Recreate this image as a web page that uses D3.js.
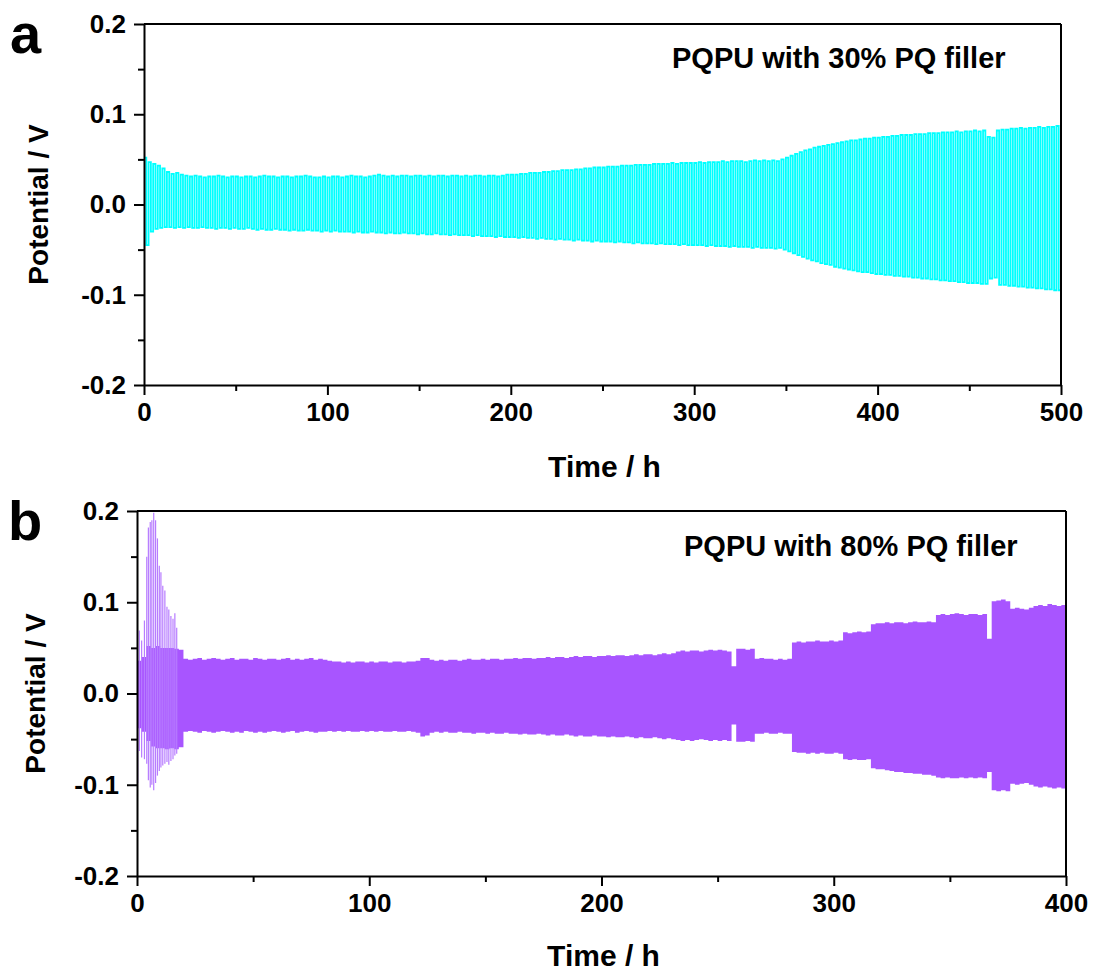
<!DOCTYPE html>
<html lang="en">
<head>
<meta charset="UTF-8">
<title>PQPU potential vs time</title>
<script src="https://d3js.org/d3.v7.min.js"></script>
<style>
    body { margin: 0; background: #fff; font-family: "Liberation Sans", Arial, sans-serif; }
    .axis text { font-family: "Liberation Sans", Arial, sans-serif; font-weight: bold; fill: #000; }
    .axis path, .axis line { stroke: #000; stroke-width: 2; }
</style>
</head>
<body>
<svg id="chart" width="1093" height="972"></svg>
<script>
// ---- panel a : PQPU with 30% PQ filler, one cycle every 2.5 h (t = i * 2.5) ----
const stepA = 2.5;
const upperA = [
    0.052,0.047,0.045,0.043,0.040,0.036,0.034,0.035,0.033,0.032, 0.031,0.032,0.031,0.030,0.031,0.031,0.032,0.031,0.030,0.031,
    0.031,0.030,0.031,0.031,0.030,0.031,0.032,0.031,0.031,0.030, 0.031,0.031,0.030,0.031,0.031,0.032,0.031,0.030,0.030,0.031,
    0.030,0.031,0.031,0.030,0.031,0.032,0.031,0.031,0.030,0.031, 0.032,0.033,0.032,0.031,0.032,0.031,0.032,0.032,0.031,0.032,
    0.032,0.031,0.032,0.031,0.032,0.032,0.031,0.032,0.032,0.031, 0.032,0.031,0.032,0.032,0.031,0.032,0.032,0.031,0.032,0.033,
    0.033,0.033,0.034,0.034,0.035,0.035,0.035,0.036,0.036,0.037, 0.037,0.038,0.038,0.038,0.039,0.039,0.040,0.040,0.041,0.041,
    0.041,0.042,0.042,0.042,0.043,0.043,0.043,0.044,0.044,0.044, 0.044,0.045,0.045,0.045,0.045,0.046,0.045,0.046,0.046,0.046,
    0.046,0.047,0.046,0.047,0.047,0.047,0.048,0.047,0.048,0.048, 0.048,0.047,0.048,0.049,0.048,0.049,0.048,0.049,0.048,0.050,
    0.052,0.054,0.056,0.058,0.060,0.061,0.063,0.064,0.065,0.066, 0.067,0.068,0.069,0.070,0.071,0.071,0.072,0.073,0.073,0.074,
    0.074,0.075,0.075,0.076,0.076,0.077,0.077,0.077,0.078,0.078, 0.078,0.079,0.079,0.079,0.080,0.080,0.080,0.081,0.080,0.081,
    0.081,0.082,0.081,0.082,0.075,0.074,0.082,0.083,0.083,0.084, 0.084,0.085,0.084,0.085,0.085,0.086,0.085,0.086,0.086,0.087
];
const lowerA = [
    -0.045,-0.030,-0.027,-0.026,-0.025,-0.025,-0.026,-0.025,-0.026,-0.025, -0.026,-0.026,-0.025,-0.026,-0.026,-0.027,-0.026,-0.026,-0.027,-0.026,
    -0.027,-0.027,-0.026,-0.027,-0.028,-0.027,-0.028,-0.028,-0.027,-0.028, -0.028,-0.029,-0.028,-0.029,-0.029,-0.028,-0.029,-0.029,-0.030,-0.029,
    -0.030,-0.029,-0.030,-0.030,-0.030,-0.031,-0.030,-0.031,-0.031,-0.030, -0.031,-0.031,-0.032,-0.031,-0.032,-0.032,-0.031,-0.032,-0.032,-0.033,
    -0.032,-0.033,-0.033,-0.032,-0.033,-0.033,-0.034,-0.033,-0.034,-0.034, -0.034,-0.035,-0.034,-0.035,-0.035,-0.035,-0.036,-0.035,-0.036,-0.036,
    -0.036,-0.037,-0.036,-0.037,-0.037,-0.038,-0.037,-0.038,-0.038,-0.039, -0.038,-0.039,-0.039,-0.040,-0.039,-0.040,-0.040,-0.041,-0.040,-0.041,
    -0.041,-0.041,-0.042,-0.041,-0.042,-0.042,-0.043,-0.042,-0.043,-0.043, -0.043,-0.044,-0.043,-0.044,-0.044,-0.044,-0.045,-0.044,-0.045,-0.045,
    -0.045,-0.045,-0.046,-0.045,-0.046,-0.046,-0.046,-0.047,-0.046,-0.047, -0.047,-0.047,-0.048,-0.047,-0.048,-0.048,-0.048,-0.049,-0.048,-0.050,
    -0.052,-0.054,-0.056,-0.058,-0.060,-0.062,-0.063,-0.065,-0.066,-0.067, -0.069,-0.070,-0.071,-0.072,-0.073,-0.074,-0.075,-0.075,-0.076,-0.077,
    -0.077,-0.078,-0.078,-0.079,-0.079,-0.080,-0.080,-0.081,-0.081,-0.082, -0.082,-0.083,-0.083,-0.084,-0.084,-0.085,-0.085,-0.086,-0.086,-0.087,
    -0.087,-0.087,-0.088,-0.088,-0.082,-0.081,-0.089,-0.089,-0.090,-0.090, -0.091,-0.091,-0.092,-0.092,-0.093,-0.093,-0.094,-0.094,-0.095,-0.095
];

// ---- panel b : PQPU with 80% PQ filler, envelope every 2 h (t = i * 2) ----
const stepB = 2;
const upperB = [
    0.036,0.040,0.052,0.050,0.052,0.050,0.050,0.050,0.049,0.048, 0.038,0.037,0.038,0.039,0.037,0.038,0.039,0.038,0.037,0.038,
    0.039,0.037,0.038,0.038,0.037,0.039,0.038,0.037,0.038,0.038, 0.037,0.038,0.039,0.037,0.038,0.037,0.038,0.039,0.037,0.038,
    0.037,0.036,0.035,0.035,0.034,0.035,0.034,0.035,0.035,0.034, 0.035,0.034,0.035,0.035,0.034,0.035,0.035,0.034,0.035,0.035,
    0.036,0.039,0.039,0.037,0.036,0.037,0.036,0.037,0.037,0.036, 0.037,0.038,0.037,0.037,0.038,0.037,0.038,0.038,0.037,0.038,
    0.038,0.039,0.038,0.039,0.039,0.038,0.039,0.039,0.040,0.039, 0.040,0.040,0.039,0.040,0.041,0.040,0.041,0.041,0.040,0.041,
    0.041,0.042,0.041,0.042,0.042,0.041,0.042,0.043,0.042,0.043, 0.043,0.042,0.043,0.044,0.043,0.044,0.046,0.047,0.046,0.047,
    0.047,0.046,0.047,0.048,0.047,0.048,0.047,0.046,0.030,0.049, 0.049,0.048,0.049,0.038,0.039,0.038,0.038,0.037,0.038,0.037,
    0.038,0.056,0.057,0.056,0.057,0.057,0.058,0.057,0.057,0.058, 0.057,0.058,0.067,0.066,0.067,0.068,0.067,0.068,0.076,0.077,
    0.077,0.078,0.077,0.078,0.078,0.077,0.078,0.079,0.078,0.078, 0.079,0.078,0.086,0.087,0.086,0.087,0.088,0.087,0.086,0.087,
    0.087,0.086,0.087,0.060,0.101,0.102,0.103,0.101,0.093,0.094, 0.093,0.092,0.094,0.096,0.097,0.096,0.098,0.097,0.096,0.097
];
const lowerB = [
    -0.038,-0.042,-0.052,-0.058,-0.060,-0.060,-0.061,-0.060,-0.061,-0.059, -0.042,-0.041,-0.042,-0.043,-0.041,-0.042,-0.043,-0.042,-0.041,-0.042,
    -0.043,-0.042,-0.043,-0.041,-0.042,-0.043,-0.042,-0.043,-0.042,-0.041, -0.042,-0.043,-0.042,-0.041,-0.043,-0.042,-0.041,-0.042,-0.043,-0.042,
    -0.042,-0.041,-0.042,-0.041,-0.042,-0.041,-0.042,-0.042,-0.041,-0.042, -0.041,-0.042,-0.041,-0.042,-0.042,-0.041,-0.042,-0.042,-0.041,-0.042,
    -0.043,-0.047,-0.046,-0.043,-0.042,-0.043,-0.042,-0.043,-0.043,-0.042, -0.043,-0.043,-0.044,-0.043,-0.043,-0.044,-0.043,-0.044,-0.044,-0.043,
    -0.044,-0.044,-0.045,-0.044,-0.045,-0.045,-0.044,-0.045,-0.046,-0.045, -0.046,-0.046,-0.045,-0.046,-0.047,-0.046,-0.047,-0.047,-0.046,-0.047,
    -0.047,-0.048,-0.047,-0.048,-0.048,-0.047,-0.048,-0.049,-0.048,-0.049, -0.049,-0.048,-0.049,-0.050,-0.049,-0.050,-0.051,-0.052,-0.051,-0.052,
    -0.051,-0.050,-0.051,-0.052,-0.051,-0.052,-0.051,-0.052,-0.034,-0.053, -0.053,-0.052,-0.053,-0.044,-0.044,-0.043,-0.044,-0.044,-0.043,-0.044,
    -0.044,-0.064,-0.065,-0.065,-0.066,-0.065,-0.066,-0.065,-0.066,-0.066, -0.065,-0.066,-0.072,-0.073,-0.072,-0.073,-0.073,-0.072,-0.082,-0.083,
    -0.083,-0.084,-0.085,-0.086,-0.086,-0.087,-0.087,-0.088,-0.088,-0.089, -0.089,-0.090,-0.092,-0.093,-0.092,-0.093,-0.093,-0.092,-0.093,-0.092,
    -0.093,-0.092,-0.093,-0.086,-0.106,-0.107,-0.106,-0.107,-0.099,-0.100, -0.099,-0.098,-0.100,-0.102,-0.103,-0.102,-0.103,-0.104,-0.103,-0.104
];
// early overshoot cycles in panel b
const spikeT  = [0.3, 1.0, 2.0, 3.2, 4.2, 4.9, 5.7, 6.4, 7.2, 8.0, 8.8, 9.6, 10.3, 11.1, 12.0, 12.9, 13.7, 14.6, 15.5, 16.3, 17.1];
const spikeHi = [0.036, 0.069, 0.058, 0.080, 0.150, 0.182, 0.188, 0.190, 0.198, 0.190, 0.170, 0.140, 0.133, 0.118, 0.113, 0.095, 0.092, 0.085, 0.082, 0.088, 0.072];
const spikeLo = [-0.098, -0.063, -0.070, -0.072, -0.077, -0.095, -0.103, -0.100, -0.106, -0.098, -0.090, -0.085, -0.081, -0.079, -0.077, -0.075, -0.078, -0.074, -0.072, -0.068, -0.066];

const yTicks = [-0.2, -0.1, 0.0, 0.1, 0.2];
const yMinor = [-0.15, -0.05, 0.05, 0.15];

const svg = d3.select("#chart");

function drawPanel(p) {
    const x = d3.scaleLinear().domain([0, p.xMax]).range([p.left, p.right]);
    const y = d3.scaleLinear().domain([-0.2, 0.2]).range([p.bottom, p.top]);
    const g = svg.append("g");

    g.append("clipPath").attr("id", "clip" + p.id)
        .append("rect")
        .attr("x", p.left).attr("y", p.top - 1)
        .attr("width", p.right - p.left).attr("height", p.bottom - p.top + 2);

    const plot = g.append("g").attr("clip-path", `url(#clip${p.id})`);
    p.drawData(plot, x, y);

    // frame (top + right)
    g.append("line").attr("x1", p.left).attr("x2", p.right).attr("y1", p.top).attr("y2", p.top)
        .attr("stroke", "#000").attr("stroke-width", 2);
    g.append("line").attr("x1", p.right).attr("x2", p.right).attr("y1", p.top).attr("y2", p.bottom)
        .attr("stroke", "#000").attr("stroke-width", 2);

    // y axis
    g.append("g").attr("class", "axis")
        .attr("transform", `translate(${p.left},0)`)
        .call(d3.axisLeft(y).tickValues(yMinor).tickSize(6).tickFormat(""))
        .call(a => a.select(".domain").remove());
    g.append("g").attr("class", "axis")
        .attr("transform", `translate(${p.left},0)`)
        .call(d3.axisLeft(y).tickValues(yTicks).tickSize(10).tickSizeOuter(0).tickPadding(8)
            .tickFormat(d => d.toFixed(1)))
        .selectAll("text").style("font-size", p.tickFont + "px");

    // x axis
    const xMajor = d3.range(0, p.xMax + 1, 100);
    const xMinor = d3.range(50, p.xMax, 100);
    g.append("g").attr("class", "axis")
        .attr("transform", `translate(0,${p.bottom})`)
        .call(d3.axisBottom(x).tickValues(xMinor).tickSize(6).tickFormat(""))
        .call(a => a.select(".domain").remove());
    g.append("g").attr("class", "axis")
        .attr("transform", `translate(0,${p.bottom})`)
        .call(d3.axisBottom(x).tickValues(xMajor).tickSize(10).tickSizeOuter(0).tickPadding(8)
            .tickFormat(d3.format("d")))
        .selectAll("text").style("font-size", p.tickFont + "px");

    // axis titles
    g.append("text")
        .attr("transform", `translate(${p.yTitleX},${(p.top + p.bottom) / 2}) rotate(-90)`)
        .attr("text-anchor", "middle")
        .style("font-size", "28px").style("font-weight", "bold")
        .text("Potential / V");
    g.append("text")
        .attr("x", (p.left + p.right) / 2 + 2).attr("y", p.xTitleY)
        .attr("text-anchor", "middle")
        .style("font-size", "30px").style("font-weight", "bold")
        .text("Time / h");

    // note and panel letter
    g.append("text")
        .attr("x", p.noteX).attr("y", p.noteY)
        .style("font-size", "29px").style("font-weight", "bold")
        .text(p.note);
    g.append("text")
        .attr("x", p.letterX).attr("y", p.letterY)
        .style("font-size", "56px").style("font-weight", "bold")
        .text(p.letter);
}

drawPanel({
    id: "a", xMax: 500, left: 144, right: 1061, top: 24, bottom: 385,
    tickFont: 26, yTitleX: 48, xTitleY: 477,
    note: "PQPU with 30% PQ filler", noteX: 672, noteY: 68,
    letter: "a", letterX: 10, letterY: 53,
    drawData: (plot, x, y) => {
        // square wave: charge half-cycle at the upper value, discharge half at the lower value
        const pts = [];
        upperA.forEach((v, i) => {
            pts.push([i * stepA, v]);
            pts.push([i * stepA + stepA / 2, lowerA[i]]);
        });
        pts.push([upperA.length * stepA, upperA[upperA.length - 1]]);
        plot.append("path")
            .attr("d", d3.line().x(d => x(d[0])).y(d => y(d[1])).curve(d3.curveStepAfter)(pts))
            .attr("fill", "none")
            .attr("stroke", "#00ffff")
            .attr("stroke-width", 1.8);
    }
});

drawPanel({
    id: "b", xMax: 400, left: 137, right: 1066, top: 511, bottom: 876,
    tickFont: 26, yTitleX: 45, xTitleY: 966,
    note: "PQPU with 80% PQ filler", noteX: 684, noteY: 556,
    letter: "b", letterX: 8, letterY: 540,
    drawData: (plot, x, y) => {
        const idx = d3.range(upperB.length + 1).map(i => Math.min(i, upperB.length - 1));
        plot.append("path")
            .attr("d", d3.area()
                .x((d, j) => x(j * stepB))
                .y0(i => y(lowerB[i]))
                .y1(i => y(upperB[i]))
                .curve(d3.curveStepAfter)(idx))
            .attr("fill", "#a855ff");
        plot.selectAll(".spike")
            .data(spikeT)
            .enter()
            .append("line")
            .attr("class", "spike")
            .attr("x1", d => x(d)).attr("x2", d => x(d))
            .attr("y1", (d, i) => y(spikeHi[i]))
            .attr("y2", (d, i) => y(spikeLo[i]))
            .attr("stroke", "#b77cff")
            .attr("stroke-width", 1.2);
    }
});
</script>
</body>
</html>
